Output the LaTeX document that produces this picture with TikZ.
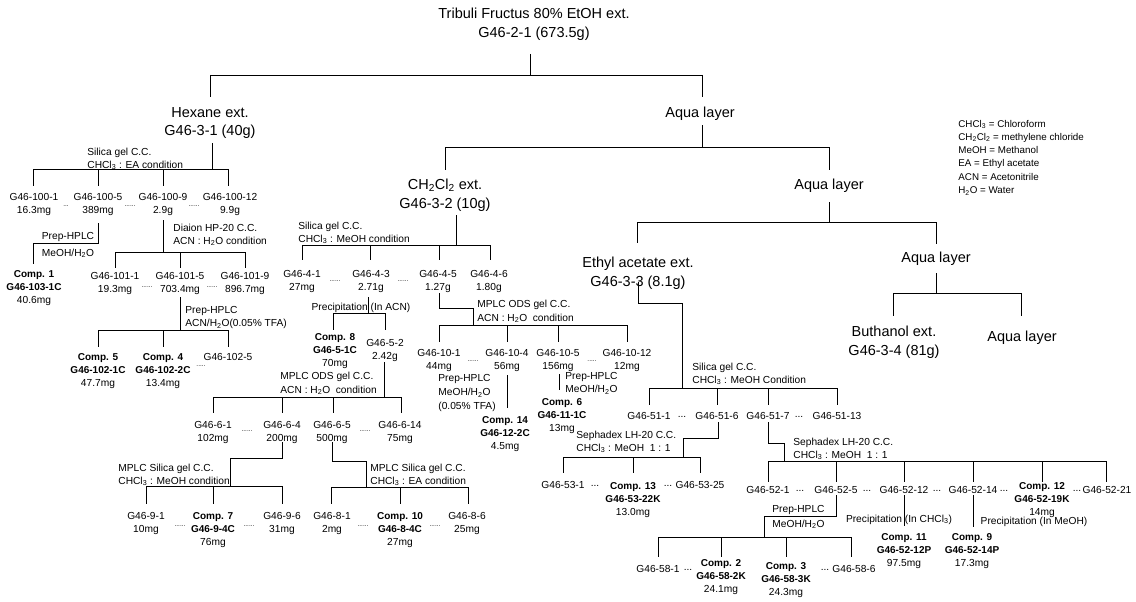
\documentclass[tikz,border=0pt]{standalone}
\usepackage{fontspec}
\setmainfont{Liberation Sans}
\newcommand\bigsz{\fontsize{14.5}{18.5}\selectfont}
\newcommand\smsz{\fontsize{10.2}{13}\selectfont}
\newcommand\legsz{\fontsize{9.8}{13.3}\selectfont}
\newcommand\dotsz{\fontsize{6.5}{6.5}\selectfont}
\newcommand\cmpd[3]{{\fontsize{10}{13}\selectfont\bfseries #1}\\{\fontsize{10}{13}\selectfont\bfseries #2}\\#3}
\newcommand\sub[1]{\textsubscript{#1}}
\begin{document}
\begin{tikzpicture}[x=1pt,y=-1pt,line width=0.8pt,
  big/.style={font=\bigsz,align=center,inner sep=0pt,anchor=north,yshift=5.2pt},
  sm/.style={font=\smsz,align=center,inner sep=0pt,anchor=north,yshift=3.65pt},
  cond/.style={font=\smsz,align=left,inner sep=0pt,anchor=north west,yshift=3.65pt},
  leg/.style={font=\legsz,align=left,inner sep=0pt,anchor=north west,yshift=3.5pt},
  dt/.style={font=\dotsz,inner sep=0pt},
  el/.style={font=\smsz,inner sep=0pt}]
\useasboundingbox (0,0) rectangle (1136,602);

% ---------- big nodes
\node[big] (root) at (534,13) {Tribuli Fructus 80\% EtOH ext.\\G46-2-1 (673.5g)};
\node[big] (hex) at (210,112) {Hexane ext.\\G46-3-1 (40g)};
\node[big] (aq1) at (700,112) {Aqua layer};
\node[big] (ch) at (445,184) {CH\sub{2}Cl\sub{2} ext.\\G46-3-2 (10g)};
\node[big] (aq2) at (829,184) {Aqua layer};
\node[big] (ea) at (638,262) {Ethyl acetate ext.\\G46-3-3 (8.1g)};
\node[big] (aq3) at (936,257) {Aqua layer};
\node[big] (bu) at (894,331) {Buthanol ext.\\G46-3-4 (81g)};
\node[big] (aq4) at (1022,336) {Aqua layer};

% ---------- legend
\node[leg] (legend) at (958,123) {CHCl\sub{3} = Chloroform\\CH\sub{2}Cl\sub{2} = methylene chloride\\MeOH = Methanol\\EA = Ethyl acetate\\ACN = Acetonitrile\\H\sub{2}O = Water};

% ---------- top connectors
\draw (530,54) -- (530,75);
\draw (210,75) -- (702,75);
\draw (210,75) -- (210,97);
\draw (702,75) -- (702,97);
\draw (702,125) -- (702,147);
\draw (445,147) -- (829,147);
\draw (445,147) -- (445,170);
\draw (829,147) -- (829,170);
\draw (829,202) -- (829,222);
\draw (637,222) -- (936,222);
\draw (637,222) -- (637,243);
\draw (936,222) -- (936,244);
\draw (936,273) -- (936,293);
\draw (893,293) -- (1021,293);
\draw (893,293) -- (893,316);
\draw (1021,293) -- (1021,316);

% ================= Hexane branch
\draw (212,143) -- (212,169);
\draw (33,169) -- (228,169);
\foreach \x in {33,98,163,228} \draw (\x,169) -- (\x,186);
\node[cond] (c100) at (87,151) {Silica gel C.C.\\CHCl\sub{3} : EA condition};
\node[sm] (n1001) at (34,197) {G46-100-1\\16.3mg};
\node[sm] (n1005) at (98,197) {G46-100-5\\389mg};
\node[sm] (n1009) at (163,197) {G46-100-9\\2.9g};
\node[sm] (n10012) at (230,197) {G46-100-12\\9.9g};
\node[dt] (d1) at (66,206) {...};
\node[dt] (d2) at (130,206) {......};
\node[dt] (d3) at (194,206) {......};

\draw (98,223) -- (98,243) -- (33,243) -- (33,264);
\node[sm] (c103) at (68,236) {Prep-HPLC};
\node[sm] (c103b) at (68,252) {MeOH/H\sub{2}O};
\node[sm] (comp1) at (34,274) {\cmpd{Comp. 1}{G46-103-1C}{40.6mg}};

\draw (163,220) -- (163,252);
\draw (115,252) -- (245,252);
\foreach \x in {115,180,245} \draw (\x,252) -- (\x,268);
\node[cond] (c101) at (173,227) {Diaion HP-20 C.C.\\ACN : H\sub{2}O condition};
\node[sm] (n1011) at (115,276) {G46-101-1\\19.3mg};
\node[sm] (n1015) at (180,276) {G46-101-5\\703.4mg};
\node[sm] (n1019) at (245,276) {G46-101-9\\896.7mg};
\node[dt] (d4) at (147,287) {......};
\node[dt] (d5) at (212,287) {......};

\draw (180,297) -- (180,330);
\draw (98,330) -- (228,330);
\foreach \x in {98,163,228} \draw (\x,330) -- (\x,347);
\node[cond] (c102) at (185,310) {Prep-HPLC\\ACN/H\sub{2}O(0.05\% TFA)};
\node[sm] (comp5) at (98,357) {\cmpd{Comp. 5}{G46-102-1C}{47.7mg}};
\node[sm] (comp4) at (163,357) {\cmpd{Comp. 4}{G46-102-2C}{13.4mg}};
\node[sm] (n1025) at (228,357) {G46-102-5};
\node[dt] (d6) at (201,366) {.....};

% ================= CH2Cl2 branch
\draw (456,215) -- (456,245);
\draw (302,245) -- (490,245);
\foreach \x in {302,370,439,490} \draw (\x,245) -- (\x,260);
\node[cond] (c4) at (298,225) {Silica gel C.C.\\CHCl\sub{3} : MeOH condition};
\node[sm] (n41) at (302,274) {G46-4-1\\27mg};
\node[sm] (n43) at (371,274) {G46-4-3\\2.71g};
\node[sm] (n45) at (438,274) {G46-4-5\\1.27g};
\node[sm] (n46) at (489,274) {G46-4-6\\1.80g};
\node[dt] (d7) at (335,281) {......};
\node[dt] (d8) at (403,281) {......};

\draw (368,297) -- (368,313);
\draw (333,313) -- (385,313);
\draw (333,313) -- (333,330);
\draw (385,313) -- (385,330);
\node[sm] (c5) at (361,306) {Precipitation (In ACN)};
\node[sm] (comp8) at (335,337) {\cmpd{Comp. 8}{G46-5-1C}{70mg}};
\node[sm] (n52) at (385,343) {G46-5-2\\2.42g};

\draw (384,362) -- (384,397);
\draw (213,397) -- (401,397);
\foreach \x in {213,282,333,401} \draw (\x,397) -- (\x,413);
\node[cond,font=\fontsize{10.2}{14}\selectfont] (c6) at (280,375) {MPLC ODS gel C.C.\\ACN : H\sub{2}O\ \ condition};
\node[sm] (n61) at (213,425) {G46-6-1\\102mg};
\node[sm] (n64) at (282,425) {G46-6-4\\200mg};
\node[sm] (n65) at (332,425) {G46-6-5\\500mg};
\node[sm] (n614) at (400,425) {G46-6-14\\75mg};
\node[dt] (d9) at (247,431) {......};
\node[dt] (d10) at (365,431) {......};

\draw (282,442) -- (282,458) -- (230,458) -- (230,486);
\draw (146,486) -- (282,486);
\foreach \x in {146,213,282} \draw (\x,486) -- (\x,504);
\node[cond] (c9) at (118,467) {MPLC Silica gel C.C.\\CHCl\sub{3} : MeOH condition};
\node[sm] (n91) at (146,516) {G46-9-1\\10mg};
\node[sm] (comp7) at (213,516) {\cmpd{Comp. 7}{G46-9-4C}{76mg}};
\node[sm] (n96) at (282,516) {G46-9-6\\31mg};
\node[dt] (d11) at (180,526) {......};
\node[dt] (d12) at (249,526) {......};

\draw (332,442) -- (332,461) -- (366,461) -- (366,487);
\draw (331,487) -- (468,487);
\foreach \x in {331,400,468} \draw (\x,487) -- (\x,504);
\node[cond] (c8) at (370,467) {MPLC Silica gel C.C.\\CHCl\sub{3} : EA condition};
\node[sm] (n81) at (332,516) {G46-8-1\\2mg};
\node[sm] (comp10) at (400,516) {\cmpd{Comp. 10}{G46-8-4C}{27mg}};
\node[sm] (n86) at (467,516) {G46-8-6\\25mg};
\node[dt] (d13) at (363,526) {......};
\node[dt] (d14) at (435,526) {......};

\draw (439,293) -- (439,308) -- (473,308) -- (473,325);
\draw (439,325) -- (627,325);
\foreach \x in {439,507,558,627} \draw (\x,325) -- (\x,342);
\node[cond,font=\fontsize{10.2}{14}\selectfont] (c10) at (477,303) {MPLC ODS gel C.C.\\ACN : H\sub{2}O\ \ condition};
\node[sm] (n101) at (439,353) {G46-10-1\\44mg};
\node[sm] (n104) at (507,353) {G46-10-4\\56mg};
\node[sm] (n105) at (558,353) {G46-10-5\\156mg};
\node[sm] (n1012) at (627,353) {G46-10-12\\12mg};
\node[dt] (d15) at (473,361) {......};
\node[dt] (d16) at (592,361) {.....};

\draw (507,375) -- (507,408);
\node[cond,font=\fontsize{10.2}{14}\selectfont] (c12) at (438,378) {Prep-HPLC\\MeOH/H\sub{2}O\\(0.05\% TFA)};
\node[sm] (comp14) at (505,420) {\cmpd{Comp. 14}{G46-12-2C}{4.5mg}};
\draw (559,374) -- (559,390);
\node[cond] (c11) at (565,376) {Prep-HPLC\\MeOH/H\sub{2}O};
\node[sm] (comp6) at (562,402) {\cmpd{Comp. 6}{G46-11-1C}{13mg}};

% ================= Ethyl acetate branch
\draw (638,282) -- (638,303) -- (682,303) -- (682,388);
\draw (649,388) -- (837,388);
\foreach \x in {649,717,768,837} \draw (\x,388) -- (\x,405);
\node[cond] (c51) at (692,366) {Silica gel C.C.\\CHCl\sub{3} : MeOH Condition};
\node[sm] (n511) at (649,416) {G46-51-1};
\node[el] (e1) at (682,417) {...};
\node[sm] (n516) at (717,416) {G46-51-6};
\node[sm] (n517) at (768,416) {G46-51-7};
\node[el] (e2) at (799,417) {...};
\node[sm] (n5113) at (837,416) {G46-51-13};

\draw (718,422) -- (718,438) -- (683,438) -- (683,457);
\draw (563,457) -- (700,457);
\foreach \x in {563,633,700} \draw (\x,457) -- (\x,473);
\node[cond] (c53) at (576,434) {Sephadex LH-20 C.C.\\CHCl\sub{3} : MeOH\ \ 1 : 1};
\node[sm] (n531) at (563,485) {G46-53-1};
\node[el] (e3) at (595,486) {...};
\node[sm] (comp13) at (633,486) {\cmpd{Comp. 13}{G46-53-22K}{13.0mg}};
\node[el] (e4) at (668,486) {...};
\node[sm] (n5325) at (700,485) {G46-53-25};

\draw (768,422) -- (768,443) -- (784,443) -- (784,461);
\draw (768,461) -- (1106,461);
\foreach \x in {768,836,904,973,1042,1106} \draw (\x,461) -- (\x,482);
\node[cond] (c52) at (793,441) {Sephadex LH-20 C.C.\\CHCl\sub{3} : MeOH\ \ 1 : 1};
\node[sm] (n521) at (768,490) {G46-52-1};
\node[el] (e5) at (800,491) {...};
\node[sm] (n525) at (836,490) {G46-52-5};
\node[el] (e6) at (867,491) {...};
\node[sm] (n5212) at (904,490) {G46-52-12};
\node[el] (e7) at (937,491) {...};
\node[sm] (n5214) at (973,490) {G46-52-14};
\node[el] (e8) at (1004,491) {...};
\node[sm] (comp12) at (1042,486) {\cmpd{Comp. 12}{G46-52-19K}{14mg}};
\node[el] (e9) at (1077,491) {...};
\node[sm] (n5221) at (1107,490) {G46-52-21};

\draw (836,495) -- (836,516) -- (764,516) -- (764,537);
\draw (658,537) -- (851,537);
\foreach \x in {658,721,786,851} \draw (\x,537) -- (\x,557);
\node[cond] (c58) at (772,509) {Prep-HPLC};
\node[cond] (c58b) at (772,523) {MeOH/H\sub{2}O};
\node[sm] (n581) at (658,569) {G46-58-1};
\node[el] (e10) at (688,570) {...};
\node[sm] (comp2) at (721,563) {\cmpd{Comp. 2}{G46-58-2K}{24.1mg}};
\node[sm] (comp3) at (786,566) {\cmpd{Comp. 3}{G46-58-3K}{24.3mg}};
\node[el] (e11) at (825,570) {...};
\node[sm] (n586) at (854,569) {G46-58-6};

\draw (904,495) -- (904,526);
\node[sm] (c5212) at (899,518) {Precipitation (In CHCl\sub{3})};
\node[sm] (comp11) at (904,537) {\cmpd{Comp. 11}{G46-52-12P}{97.5mg}};
\draw (973,495) -- (973,527);
\node[sm] (c5214) at (1034,520) {Precipitation (In MeOH)};
\node[sm] (comp9) at (972,537) {\cmpd{Comp. 9}{G46-52-14P}{17.3mg}};
\end{tikzpicture}
\end{document}
